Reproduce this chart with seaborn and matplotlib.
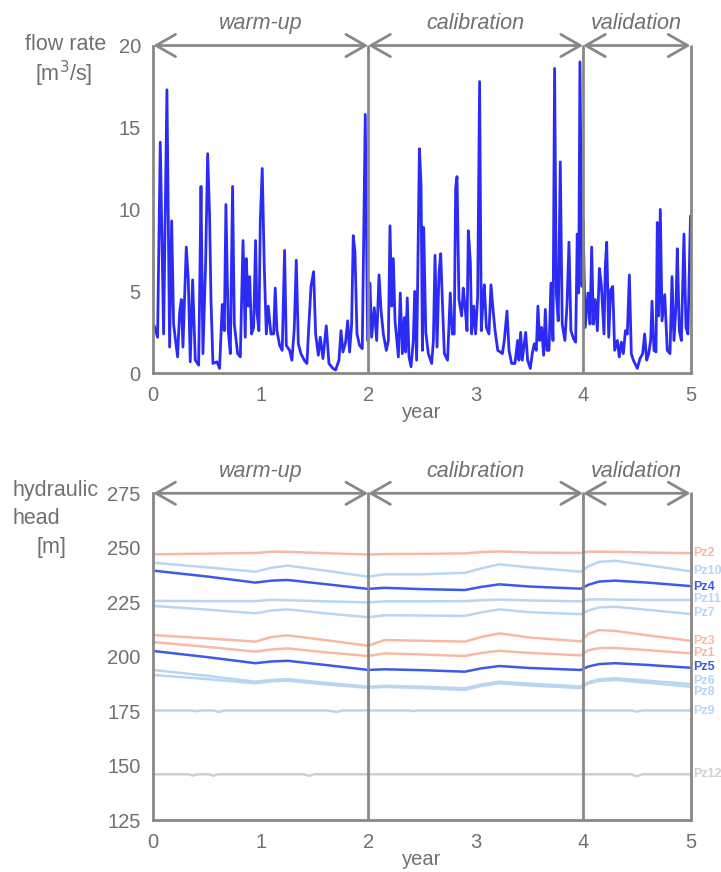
import numpy as np
import pandas as pd
import matplotlib
matplotlib.use("Agg")
import matplotlib.pyplot as plt
import seaborn as sns

# ---------------- data ----------------
flow_t = [0.009, 0.040, 0.065, 0.096, 0.127, 0.152, 0.171, 0.189, 0.226, 0.245, 0.261, 0.276,
          0.307, 0.326, 0.344, 0.366, 0.391, 0.422, 0.431, 0.444, 0.462, 0.487, 0.506, 0.524,
          0.537, 0.555, 0.593, 0.617, 0.642, 0.661, 0.676, 0.698, 0.717, 0.738, 0.754, 0.785,
          0.810, 0.835, 0.856, 0.865, 0.884, 0.897, 0.915, 0.934, 0.952, 0.965, 0.983, 0.996,
          1.014, 1.033, 1.052, 1.070, 1.095, 1.120, 1.135, 1.151, 1.176, 1.200, 1.222, 1.238,
          1.269, 1.290, 1.312, 1.331, 1.350, 1.374, 1.405, 1.430, 1.446, 1.468, 1.492, 1.511,
          1.536, 1.554, 1.579, 1.610, 1.635, 1.672, 1.697, 1.728, 1.747, 1.765, 1.790, 1.809,
          1.827, 1.846, 1.861, 1.877, 1.896, 1.920, 1.945, 1.961, 1.973, 1.995, 2.017, 2.032,
          2.057, 2.079, 2.101, 2.119, 2.141, 2.169, 2.188, 2.203, 2.219, 2.234, 2.250, 2.281,
          2.299, 2.318, 2.337, 2.349, 2.364, 2.380, 2.399, 2.420, 2.433, 2.451, 2.477, 2.492,
          2.505, 2.517, 2.536, 2.560, 2.591, 2.607, 2.622, 2.641, 2.659, 2.675, 2.690, 2.709,
          2.739, 2.764, 2.783, 2.801, 2.814, 2.827, 2.845, 2.870, 2.885, 2.901, 2.920, 2.932,
          2.951, 2.963, 2.982, 3.000, 3.019, 3.037, 3.053, 3.069, 3.081, 3.100, 3.124, 3.143,
          3.162, 3.181, 3.206, 3.230, 3.249, 3.267, 3.292, 3.311, 3.335, 3.366, 3.391, 3.403,
          3.419, 3.434, 3.466, 3.484, 3.509, 3.527, 3.546, 3.565, 3.580, 3.596, 3.614, 3.633,
          3.649, 3.664, 3.683, 3.701, 3.720, 3.735, 3.751, 3.769, 3.788, 3.806, 3.831, 3.850,
          3.869, 3.887, 3.912, 3.931, 3.946, 3.959, 3.971, 3.990, 4.000, 4.020, 4.046, 4.065,
          4.080, 4.096, 4.114, 4.133, 4.152, 4.170, 4.195, 4.207, 4.220, 4.239, 4.257, 4.276,
          4.294, 4.319, 4.337, 4.356, 4.375, 4.394, 4.412, 4.431, 4.449, 4.468, 4.505, 4.530,
          4.555, 4.573, 4.592, 4.611, 4.629, 4.642, 4.660, 4.679, 4.691, 4.704, 4.719, 4.735,
          4.760, 4.784, 4.809, 4.828, 4.846, 4.865, 4.877, 4.896, 4.915, 4.939, 4.958, 4.976,
          5.000]
flow_q = [2.9, 2.2, 14.1, 2.4, 17.3, 1.6, 9.3, 3.0, 1.0, 3.7, 4.5, 1.6,
          7.7, 5.7, 0.7, 5.7, 0.8, 0.5, 4.5, 11.4, 1.2, 6.7, 13.4, 9.6,
          4.5, 0.6, 0.7, 0.3, 4.2, 2.6, 10.3, 2.6, 1.2, 11.4, 3.0, 1.2,
          1.0, 8.1, 2.2, 7.0, 4.1, 5.9, 2.4, 2.8, 8.1, 3.7, 2.6, 9.3,
          12.5, 6.5, 2.4, 4.1, 2.4, 2.4, 5.2, 2.6, 1.7, 1.4, 7.5, 1.7,
          1.4, 0.8, 2.7, 6.9, 1.8, 1.2, 0.8, 0.6, 2.7, 5.3, 6.2, 2.4,
          1.1, 2.2, 0.9, 2.9, 0.6, 0.3, 0.2, 0.8, 2.6, 1.3, 1.9, 3.2,
          1.3, 3.0, 8.4, 7.4, 2.4, 1.7, 1.5, 9.8, 15.8, 2.0, 5.5, 2.2,
          4.0, 2.0, 6.0, 3.9, 2.4, 1.4, 2.0, 9.0, 4.1, 7.0, 3.2, 1.0,
          4.9, 1.2, 3.4, 1.3, 4.6, 1.0, 0.4, 2.0, 5.0, 0.8, 13.7, 11.5,
          1.4, 8.9, 2.5, 1.2, 0.6, 2.0, 7.2, 1.6, 6.1, 7.3, 4.5, 1.2,
          0.8, 4.9, 2.4, 2.4, 11.3, 12.0, 4.5, 3.5, 5.2, 4.1, 2.6, 8.7,
          6.8, 2.4, 4.1, 2.4, 4.7, 17.8, 2.6, 4.5, 5.4, 2.8, 2.4, 5.4,
          3.9, 2.6, 1.4, 1.3, 1.2, 2.0, 3.8, 1.4, 0.6, 0.6, 2.0, 0.8,
          2.5, 0.8, 2.5, 0.8, 0.3, 1.2, 1.8, 1.4, 4.1, 2.0, 2.8, 1.1,
          3.9, 1.4, 1.4, 5.5, 2.0, 18.6, 4.9, 3.2, 12.9, 3.0, 2.0, 4.1,
          8.0, 2.6, 2.1, 1.9, 8.5, 4.9, 19.0, 5.3, 9.3, 2.8, 4.9, 3.0,
          7.7, 3.0, 4.5, 2.6, 6.4, 5.4, 2.4, 6.5, 8.0, 2.2, 5.1, 5.3,
          1.4, 2.0, 1.0, 1.9, 1.2, 2.6, 2.4, 6.0, 1.2, 0.8, 0.3, 0.9,
          1.2, 2.4, 0.8, 1.2, 2.0, 4.4, 1.4, 1.3, 9.2, 3.5, 10.0, 3.2,
          4.8, 1.4, 1.2, 5.9, 2.0, 4.1, 7.6, 2.6, 2.0, 8.5, 2.8, 2.4,
          9.6]

head_t = [0, 0.5, 0.95, 1.1, 1.25, 1.6, 2.0, 2.15, 2.5, 2.9, 3.05, 3.22, 3.5, 3.98,
          4.05, 4.15, 4.3, 4.6, 5.0]
pz1 = [206.7, 204.5, 202.3, 203.3, 203.8, 202.0, 200.3, 201.5, 201.0, 200.3, 201.7, 202.7,
       201.7, 200.6, 203.0, 203.9, 204.0, 203.0, 201.5]
pz2 = [247.0, 247.3, 247.6, 248.2, 248.1, 247.5, 246.9, 247.1, 247.2, 247.4, 248.0, 248.3,
       247.8, 247.6, 248.2, 248.2, 248.1, 247.8, 247.5]
pz3 = [209.9, 208.4, 206.9, 209.0, 209.8, 207.6, 205.0, 207.6, 207.3, 206.9, 209.0, 210.7,
       208.8, 207.0, 210.5, 212.2, 211.8, 209.8, 207.3]
pz4 = [239.5, 236.8, 234.0, 234.9, 235.2, 233.3, 231.1, 231.6, 231.0, 230.6, 232.0, 233.2,
       232.2, 231.2, 233.0, 234.5, 234.9, 234.0, 232.4]
pz5 = [202.6, 199.8, 197.0, 197.8, 198.1, 196.2, 193.9, 194.2, 193.8, 193.1, 194.6, 195.7,
       194.8, 193.9, 195.5, 196.6, 197.0, 196.2, 194.9]
pz6 = [193.9, 191.2, 188.5, 189.3, 189.7, 188.0, 186.2, 186.6, 186.2, 185.5, 187.2, 188.5,
       187.6, 186.3, 188.3, 189.6, 190.1, 189.0, 187.4]
pz7 = [223.3, 221.6, 219.9, 221.2, 221.7, 219.9, 218.1, 219.0, 218.9, 218.7, 220.3, 221.7,
       220.4, 219.5, 221.2, 222.6, 222.9, 221.5, 219.6]
pz8 = [191.6, 189.7, 187.8, 188.7, 189.0, 187.3, 185.7, 186.1, 185.6, 184.7, 186.5, 187.8,
       186.8, 185.6, 187.7, 188.9, 189.3, 188.0, 186.2]
pz10 = [243.1, 241.0, 239.0, 240.8, 241.8, 239.5, 236.7, 237.8, 237.8, 238.5, 240.5, 242.4,
        241.0, 239.0, 241.5, 243.5, 244.0, 242.0, 239.2]
pz11 = [225.6, 225.5, 225.5, 226.1, 225.9, 225.4, 224.9, 225.4, 225.4, 225.5, 225.9, 226.2,
        225.8, 225.4, 226.2, 226.3, 226.2, 226.0, 226.0]
pz9_t = [0, 0.35, 0.40, 0.45, 0.56, 0.61, 0.66, 1.60, 1.66, 1.71, 1.76, 2.38, 2.42, 2.46,
         4.45, 4.50, 4.55, 5.0]
pz9 = [175.3, 175.3, 175.0, 175.3, 175.3, 174.6, 175.3, 175.3, 175.0, 174.6, 175.3, 175.3,
       175.0, 175.3, 175.3, 174.8, 175.3, 175.3]
pz12_t = [0, 0.33, 0.37, 0.41, 0.52, 0.56, 0.60, 1.40, 1.45, 1.50, 4.45, 4.50, 4.55, 5.0]
pz12 = [146.0, 146.0, 145.4, 146.0, 146.0, 145.3, 146.0, 146.0, 145.3, 146.0, 146.0, 145.0,
        146.0, 146.0]

pz_names = ["Pz2", "Pz10", "Pz4", "Pz11", "Pz7", "Pz3", "Pz1", "Pz5", "Pz6", "Pz8", "Pz9", "Pz12"]
pz_label_y = [247.45, 239.46, 232.12, 226.33, 220.18, 207.32, 201.54, 195.39, 188.82,
              183.63, 175.05, 145.98]

periods = ["warm-up", "calibration", "validation"]
period_bounds = [0, 2, 4, 5]

# ---------------- styling ----------------
sns.set_theme(style="white")
plt.rcParams["font.family"] = ["Liberation Sans", "DejaVu Sans"]

GREY = "#888888"
TXT = "#707070"
SALMON = "#F8B8A4"
LBLUE = "#B8D5F2"
BLUE = "#3D5AE8"
LGREY = "#CFCFCF"
colors = {"Pz1": SALMON, "Pz2": SALMON, "Pz3": SALMON,
          "Pz4": BLUE, "Pz5": BLUE,
          "Pz6": LBLUE, "Pz7": LBLUE, "Pz8": LBLUE, "Pz9": LBLUE, "Pz10": LBLUE, "Pz11": LBLUE,
          "Pz12": LGREY}

fig = plt.figure(figsize=(7.21, 8.72), dpi=100)
ax1 = fig.add_axes([0.2126, 0.5719, 0.7451, 0.3759])
ax2 = fig.add_axes([0.2126, 0.0596, 0.7451, 0.3747])

# flow
flow_df = pd.DataFrame({"year": flow_t, "flow": flow_q})
sns.lineplot(data=flow_df, x="year", y="flow", ax=ax1, color="#2B2BF5", lw=2.0, sort=False,
             estimator=None)

# heads
frames = []
series = {"Pz1": pz1, "Pz2": pz2, "Pz3": pz3, "Pz4": pz4, "Pz5": pz5, "Pz6": pz6,
          "Pz7": pz7, "Pz8": pz8, "Pz10": pz10, "Pz11": pz11}
for k, v in series.items():
    frames.append(pd.DataFrame({"year": head_t, "head": v, "pz": k}))
frames.append(pd.DataFrame({"year": pz9_t, "head": pz9, "pz": "Pz9"}))
frames.append(pd.DataFrame({"year": pz12_t, "head": pz12, "pz": "Pz12"}))
head_df = pd.concat(frames, ignore_index=True)
order = ["Pz12", "Pz9", "Pz6", "Pz8", "Pz7", "Pz11", "Pz10", "Pz1", "Pz3", "Pz2", "Pz5", "Pz4"]
sns.lineplot(data=head_df, x="year", y="head", hue="pz", hue_order=order, palette=colors,
             ax=ax2, lw=1.8, sort=False, estimator=None, legend=False)

def style_axis(ax, ylim, yticks):
    ax.set_xlim(0, 5)
    ax.set_ylim(*ylim)
    ax.set_xticks(range(6))
    ax.set_yticks(yticks)
    for s in ["top", "right"]:
        ax.spines[s].set_visible(False)
    for s in ["left", "bottom"]:
        ax.spines[s].set_color(GREY)
        ax.spines[s].set_linewidth(2)
    for xv in period_bounds[1:]:
        ax.axvline(xv, color=GREY, lw=2, zorder=5, clip_on=False)
    ax.tick_params(direction="in", length=8.5, width=2, color=GREY, labelcolor=TXT,
                   labelsize=14.5, pad=9)
    ax.set_xlabel("year", fontsize=14.5, color=TXT, labelpad=-1)
    ax.set_ylabel("")
    top = ylim[1]
    for i, name in enumerate(periods):
        a, b = period_bounds[i], period_bounds[i + 1]
        ax.annotate("", xy=(b, top), xytext=(a, top), xycoords="data",
                    annotation_clip=False,
                    arrowprops=dict(arrowstyle="<->,head_length=0.7,head_width=0.4",
                                    mutation_scale=20, color=GREY, lw=2,
                                    shrinkA=0, shrinkB=0))
        ax.annotate(name, xy=((a + b) / 2, top), xytext=(0, 12), textcoords="offset points",
                    ha="center", va="baseline", fontsize=15.5, style="italic", color=TXT,
                    annotation_clip=False)

style_axis(ax1, (0, 20), [0, 5, 10, 15, 20])
style_axis(ax2, (125, 275), [125, 150, 175, 200, 225, 250, 275])

for name, yv in zip(pz_names, pz_label_y):
    ax2.annotate(name, xy=(5, yv), xytext=(2, 0), textcoords="offset points",
                 ha="left", va="center", fontsize=9, fontweight="bold",
                 color=colors[name], annotation_clip=False)

fig.text(66 / 721, 1 - 44 / 872, "flow rate", ha="center", va="center", fontsize=15.5, color=TXT)
fig.text(64 / 721, 1 - 74 / 872, "[m$^3$/s]", ha="center", va="center", fontsize=15.5, color=TXT)
fig.text(12 / 721, 1 - 490 / 872, "hydraulic", ha="left", va="center", fontsize=15.5, color=TXT)
fig.text(12 / 721, 1 - 518 / 872, "head", ha="left", va="center", fontsize=15.5, color=TXT)
fig.text(37 / 721, 1 - 547 / 872, "[m]", ha="left", va="center", fontsize=15.5, color=TXT)

fig.savefig("out.png", dpi=100, facecolor="white")
